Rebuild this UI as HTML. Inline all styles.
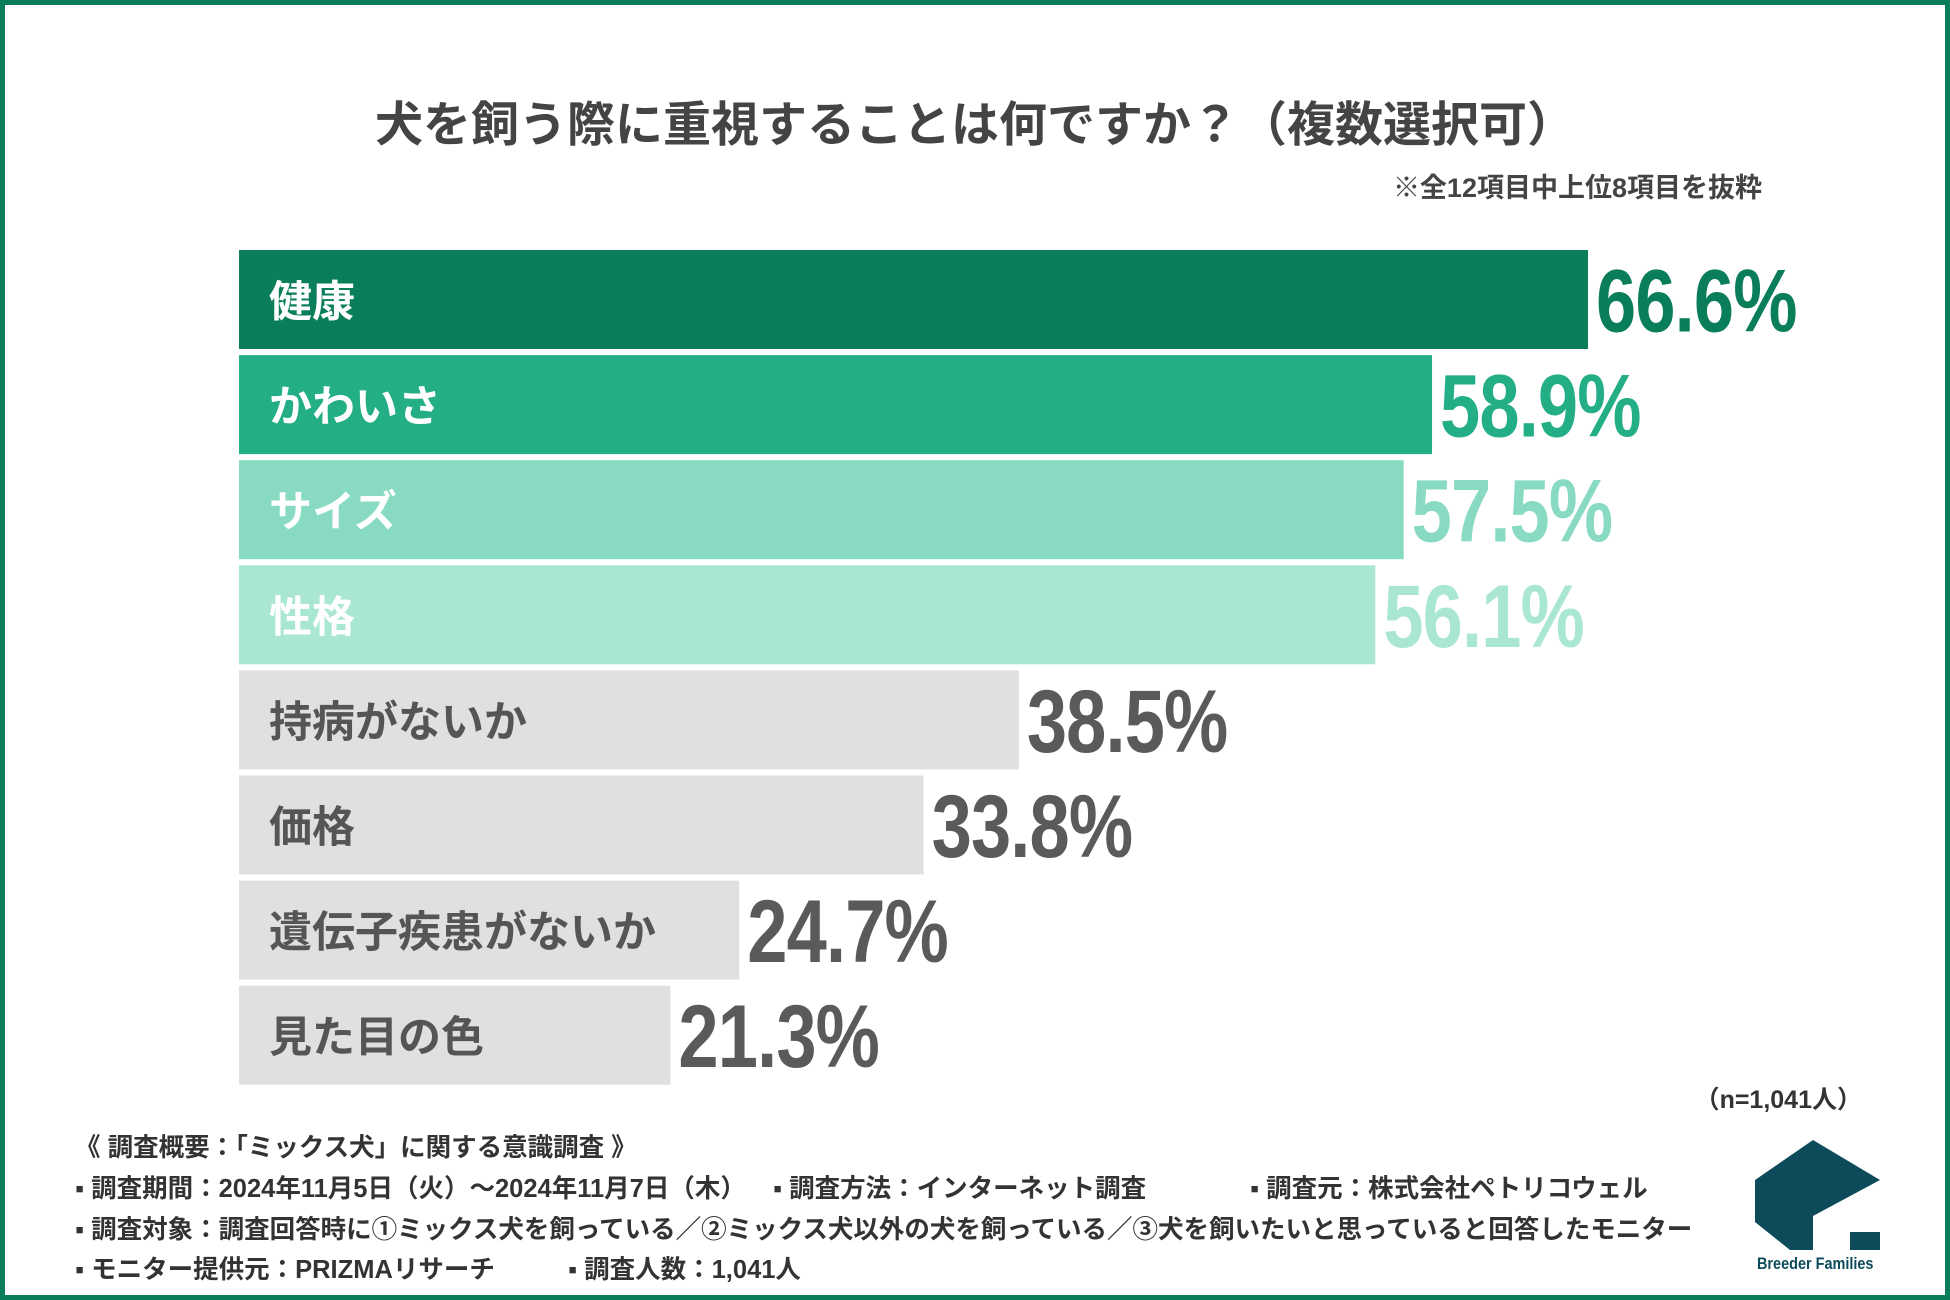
<!DOCTYPE html>
<html><head><meta charset="utf-8"><style>
body{margin:0;width:1950px;height:1300px;overflow:hidden;background:#fff;font-family:"Liberation Sans","Noto Sans CJK JP",sans-serif;}
#frame{position:absolute;left:0;top:0;width:1940px;height:1290px;border:5px solid #0a7d5a;}
.t{position:absolute;white-space:nowrap;font-weight:bold;}
.f{font-size:25.5px;color:#333;}
</style></head><body>
<div id="frame"></div>
<div class="t" style="left:0;width:1950px;text-align:center;top:85px;font-size:48px;color:#444;">犬を飼う際に重視することは何ですか？（複数選択可）</div>
<div class="t" style="right:188px;top:166px;font-size:27px;color:#444;">※全12項目中上位8項目を抜粋</div>
<svg id="chart" width="1950" height="1300" style="position:absolute;left:0;top:0"></svg>
<div class="t" style="right:88px;top:1080px;font-size:25px;color:#333;">（n=1,041人）</div>
<div class="t f" style="left:75px;top:1127px;">《 調査概要：「ミックス犬」に関する意識調査 》</div>
<div class="t f" style="left:75px;top:1168px;">▪ 調査期間：2024年11月5日（火）〜2024年11月7日（木）</div>
<div class="t f" style="left:773px;top:1168px;">▪ 調査方法：インターネット調査</div>
<div class="t f" style="left:1250px;top:1168px;">▪ 調査元：株式会社ペトリコウェル</div>
<div class="t f" style="left:75px;top:1209px;">▪ 調査対象：調査回答時に①ミックス犬を飼っている／②ミックス犬以外の犬を飼っている／③犬を飼いたいと思っていると回答したモニター</div>
<div class="t f" style="left:75px;top:1249px;">▪ モニター提供元：PRIZMAリサーチ</div>
<div class="t f" style="left:568px;top:1249px;">▪ 調査人数：1,041人</div>
<svg width="140" height="120" style="position:absolute;left:1750px;top:1138px">
<polygon points="63,2 130,42 63,78 5,42" fill="#0e4b5a"/>
<polygon points="5,42 40,62 40,112 5,84" fill="#0e4b5a"/>
<polygon points="40,62 63,78 63,112 40,112" fill="#0e4b5a"/>
<rect x="100" y="94" width="30" height="18" fill="#0e4b5a"/>
</svg>
<div class="t" style="left:1757px;top:1254px;font-size:17px;color:#0e4b5a;transform:scaleX(0.85);transform-origin:left;">Breeder Families</div>
<script>
const categories=["健康","かわいさ","サイズ","性格","持病がないか","価格","遺伝子疾患がないか","見た目の色"];
const values=[66.6,58.9,57.5,56.1,38.5,33.8,24.7,21.3];
const valueLabels=["66.6%","58.9%","57.5%","56.1%","38.5%","33.8%","24.7%","21.3%"];
const barColors=["#0a7d5a","#23ae85","#88dbc2","#a9e6d3","#e0e0e0","#e0e0e0","#e0e0e0","#e0e0e0"];
const valColors=["#0a7d5a","#23ae85","#88dbc2","#a9e6d3","#5a5a5a","#5a5a5a","#5a5a5a","#5a5a5a"];
const labColors=["#fff","#fff","#fff","#fff","#555","#555","#555","#555"];
const svg=document.getElementById('chart');const NS='http://www.w3.org/2000/svg';
const x0=239,pxPer=1349/66.6;const xs=v=>v*pxPer;
const ys=i=>250+i*105.1;const bh=99;
categories.forEach((c,i)=>{
 const r=document.createElementNS(NS,'rect');
 
 
 r.setAttribute('x',x0);r.setAttribute('y',ys(i));r.setAttribute('width',xs(values[i]));r.setAttribute('height',bh);r.setAttribute('fill',barColors[i]);svg.appendChild(r);
 const t=document.createElementNS(NS,'text');
 
 
 t.setAttribute('x',269);t.setAttribute('y',ys(i)+bh/2+17);t.setAttribute('font-size','43');t.setAttribute('font-weight','bold');t.setAttribute('fill',labColors[i]);t.setAttribute('font-family','"Liberation Sans","Noto Sans CJK JP",sans-serif');t.textContent=c;svg.appendChild(t);
 const v=document.createElementNS(NS,'text');
 
 
 const vx=x0+xs(values[i])+8;
 v.setAttribute('transform','translate('+vx+','+(ys(i)+bh/2+32)+') scale(0.84,1.04)');
 v.setAttribute('font-size','86');v.setAttribute('font-weight','bold');v.setAttribute('fill',valColors[i]);v.setAttribute('font-family','"Liberation Sans",sans-serif');v.setAttribute('letter-spacing','-1');v.textContent=valueLabels[i];svg.appendChild(v);
});
</script>
</body></html>
